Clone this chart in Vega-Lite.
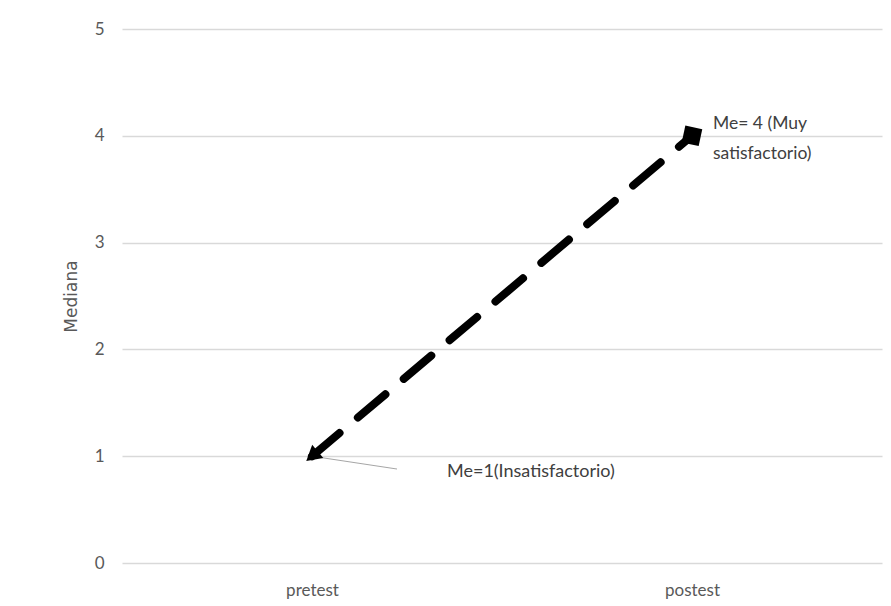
{
  "$schema": "https://vega.github.io/schema/vega-lite/v6.json",
  "width": 760,
  "height": 534,
  "autosize": "none",
  "padding": {"left": 122, "top": 29, "right": 9, "bottom": 43},
  "background": "white",
  "config": {
    "view": {"stroke": null},
    "font": "Lato",
    "axis": {"labelFont": "Lato", "labelColor": "#595959", "labelFontSize": 17, "titleColor": "#595959", "gridColor": "#d9d9d9", "gridWidth": 1.3}
  },
  "data": {"values": [
    {"test": "pretest", "mediana": 1, "label": "Me=1(Insatisfactorio)"},
    {"test": "postest", "mediana": 4, "label": "Me= 4 (Muy satisfactorio)"}
  ]},
  "encoding": {
    "x": {"field": "test", "type": "nominal", "sort": ["pretest", "postest"], "scale": {"type": "point", "padding": 0.5},
      "axis": {"title": null, "labelAngle": 0, "domain": false, "ticks": false, "labelPadding": 19, "grid": false}},
    "y": {"field": "mediana", "type": "quantitative", "scale": {"domain": [0, 5]},
      "axis": {"title": "Mediana", "titleFont": "DejaVu Sans", "titleFontSize": 17, "titleFontWeight": "normal", "titlePadding": 14, "tickCount": 5, "domain": false, "ticks": false, "labelPadding": 18, "grid": true}}
  },
  "layer": [
    {
      "mark": {"type": "rule", "color": "#a6a6a6", "strokeWidth": 1, "x2Offset": 85},
      "transform": [{"filter": "datum.test == 'pretest'"}],
      "encoding": {"x2": {"field": "test"}, "y2": {"datum": 0.88}}
    },
    {
      "mark": {"type": "line", "color": "black", "strokeWidth": 8, "strokeDash": [36, 24], "strokeCap": "round"}
    },
    {
      "mark": {"type": "point", "shape": "square", "filled": true, "color": "black", "size": 300, "angle": 12, "opacity": 1},
      "transform": [{"filter": "datum.test == 'postest'"}]
    },
    {
      "mark": {"type": "point", "shape": "triangle-up", "filled": true, "color": "black", "size": 300, "angle": 230, "opacity": 1},
      "transform": [{"filter": "datum.test == 'pretest'"}]
    },
    {
      "mark": {"type": "text", "align": "left", "baseline": "middle", "dx": 135, "dy": 16, "fontSize": 18, "color": "#404040"},
      "transform": [{"filter": "datum.test == 'pretest'"}],
      "encoding": {"text": {"field": "label"}}
    },
    {
      "mark": {"type": "text", "align": "left", "baseline": "middle", "dx": 21, "dy": -12, "fontSize": 17.5, "color": "#404040", "lineBreak": "\n", "lineHeight": 30},
      "transform": [{"filter": "datum.test == 'postest'"}],
      "encoding": {"text": {"value": ["Me= 4 (Muy", "satisfactorio)"]}}
    }
  ]
}
